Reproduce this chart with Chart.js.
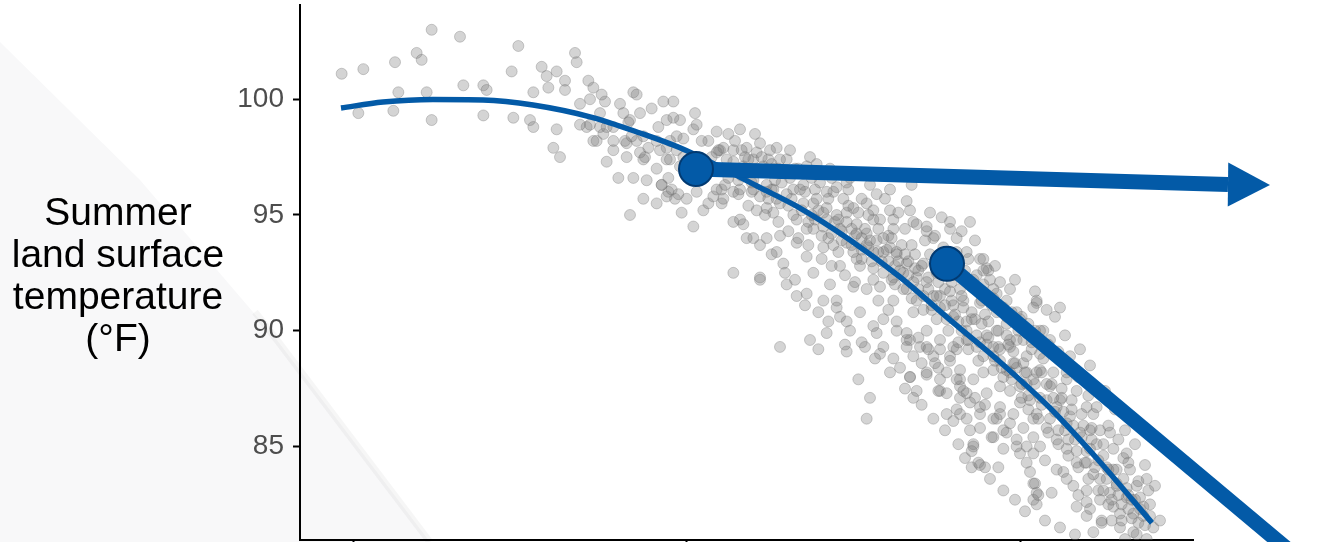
<!DOCTYPE html>
<html lang="en">
<head>
    <meta charset="UTF-8">
    <title>Summer land surface temperature</title>
    <script src="https://cdn.jsdelivr.net/npm/chart.js"></script>
    <style>
        html, body { margin: 0; padding: 0; background: #fff; overflow: hidden; }
        .container { position: relative; width: 1332px; height: 560px; }
    </style>
</head>
<body>
    <div class="container">
        <canvas id="lstChart"></canvas>
    </div>

    <script>
        // sampled sites: [x, summer LST in °F]
        const sites = [
            [0.193,101.1],[0.206,101.3],[0.225,101.6],[0.238,102.0],[0.241,101.7],[0.247,103.0],[0.264,102.7],[0.299,102.3],
            [0.333,102.0],[0.334,101.6],[0.295,101.2],[0.313,101.4],[0.316,101.0],[0.322,101.2],[0.327,100.8],[0.341,100.8],
            [0.344,100.5],[0.227,100.3],[0.244,100.3],[0.266,100.6],[0.278,100.6],[0.280,100.4],[0.203,99.4],[0.224,99.5],
            [0.247,99.1],[0.278,99.3],[0.296,99.2],[0.306,99.1],[0.308,98.8],[0.308,100.3],[0.317,100.5],[0.327,100.4],
            [0.322,98.7],[0.320,97.9],[0.324,97.5],[0.352,97.3],[0.359,96.6],[0.368,96.6],[0.376,96.5],[0.366,95.0],
            [0.397,95.1],[0.374,95.7],[0.382,95.5],[0.389,96.0],[0.393,95.7],[0.385,96.3],[0.382,97.0],[0.374,97.4],
            [0.372,97.7],[0.356,97.8],[0.344,98.2],[0.350,98.5],[0.340,98.8],[0.336,99.8],[0.342,100.0],[0.351,99.9],
            [0.360,99.8],[0.368,100.3],[0.370,100.2],[0.379,99.6],[0.386,99.9],[0.392,99.9],[0.405,99.4],[0.396,99.1],
            [0.388,99.1],[0.383,98.8],[0.372,99.4],[0.366,99.1],[0.356,98.8],[0.348,99.4],[0.394,98.4],[0.388,97.9],
            [0.398,97.5],[0.404,98.7],[0.388,97.4],[0.364,98.1],[0.370,98.2],
            [0.349,100.2],[0.362,99.4],[0.365,99.0],[0.336,98.9],[0.342,98.9],[0.348,98.8],[0.352,98.8],[0.356,98.2],
            [0.346,98.2],[0.375,97.5],[0.364,97.5],[0.385,96.3],[0.388,95.8],[0.395,95.9],[0.404,94.5],[0.410,95.2],
            [0.413,95.5],[0.421,95.5],[0.428,94.7],[0.436,94.0],[0.440,94.0],[0.448,94.0],[0.428,92.5],[0.444,92.3],
            [0.434,94.6],[0.442,95.2],[0.452,95.1],[0.454,97.9],[0.444,98.1],[0.436,97.9],[0.425,98.5],[0.418,98.6],
            [0.406,98.9],[0.392,99.2],[0.384,97.8],[0.390,97.4],[0.396,97.1],[0.394,97.8],[0.398,98.3],[0.413,98.2],
            [0.420,97.8],[0.428,97.8],[0.432,96.8],[0.440,96.5],[0.444,95.8],[0.448,95.3],[0.452,96.1],[0.452,97.0],
            [0.440,97.4],[0.428,96.0],[0.421,96.1],[0.416,95.8],[0.406,96.0],[0.400,95.7],[0.391,96.1],[0.389,96.6],
            [0.363,98.2],[0.367,98.4],[0.374,98.4],[0.377,97.9],[0.382,98.2],[0.390,98.2],
            [0.460,97.4],[0.478,97.2],[0.510,96.3],[0.514,95.9],[0.532,95.6],[0.535,96.3],[0.553,94.9],[0.570,94.7],
            [0.565,94.3],[0.576,93.1],[0.580,92.7],[0.582,92.2],[0.544,94.3],[0.548,94.0],[0.536,94.7],[0.522,95.2],
            [0.500,95.3],[0.488,96.0],[0.468,96.1],[0.466,94.8],[0.456,94.1],[0.454,93.4],[0.458,92.9],[0.472,93.2],
            [0.476,92.5],[0.486,92.0],[0.492,92.8],[0.502,93.1],[0.512,93.4],[0.522,93.6],[0.532,92.9],[0.538,92.3],
            [0.524,92.3],[0.512,92.2],[0.500,91.9],[0.432,94.8],[0.422,95.7],[0.418,96.1],[0.432,96.1],[0.448,96.0],
            [0.456,95.5],[0.476,95.5],[0.484,94.8],[0.492,94.4],[0.476,94.4],[0.466,93.8],[0.482,93.6],[0.496,93.8],
            [0.508,94.2],[0.516,94.8],[0.496,95.1],[0.508,95.5],[0.524,94.4],[0.504,92.8],[0.490,91.3],[0.472,91.6],
            [0.610,91.2],[0.624,91.0],[0.616,90.9],[0.608,91.0],[0.614,90.0],[0.618,89.6],[0.588,92.1],[0.594,91.8],
            [0.600,90.5],[0.604,89.9],[0.568,93.4],[0.578,93.1],[0.544,94.5],[0.524,94.8],[0.496,96.4],[0.490,96.2],
            [0.456,89.3],[0.474,89.6],[0.479,89.2],[0.484,89.9],[0.495,89.4],[0.496,89.1],[0.507,89.3],[0.513,88.8],
            [0.503,87.9],[0.510,87.1],[0.508,86.2],[0.518,89.3],[0.524,88.8],[0.534,88.0],[0.536,87.1],[0.538,87.4],
            [0.544,88.1],[0.551,88.4],[0.552,87.4],[0.556,87.3],[0.556,86.4],[0.560,86.1],[0.564,87.1],[0.570,85.7],
            [0.572,85.1],[0.571,84.8],[0.571,84.1],[0.575,84.3],[0.579,84.1],[0.587,84.1],[0.584,85.4],[0.590,84.9],
            [0.594,86.0],[0.600,84.7],[0.604,84.3],[0.608,83.4],[0.610,83.0],[0.610,82.5],[0.466,91.5],[0.460,92.0],
            [0.444,92.2],[0.482,91.3],[0.490,91.0],[0.492,90.6],[0.496,90.4],[0.504,90.8],[0.512,90.2],[0.514,89.9],
            [0.518,90.5],[0.526,90.0],[0.532,89.6],[0.540,89.3],[0.548,88.9],[0.558,88.9],[0.564,88.3],[0.572,87.9],
            [0.580,87.3],[0.588,86.7],[0.596,86.4],[0.602,85.8],[0.608,85.4],[0.576,86.4],[0.584,86.2],[0.592,85.6],
            [0.598,85.0],[0.608,84.7],[0.606,83.9],[0.608,82.7],[0.528,88.4],[0.541,88.6],[0.552,87.9],[0.564,87.6],
            [0.570,86.9],[0.562,86.6],[0.576,85.8],[0.568,86.2],[0.544,90.0],[0.552,89.6],[0.560,89.3],[0.536,90.8],
            [0.524,91.3],[0.516,91.9],[0.532,91.8],[0.542,91.5],[0.552,91.0],[0.560,90.6],[0.568,90.0],[0.576,89.5],
            [0.584,88.9],[0.592,88.3],[0.600,87.6],[0.606,87.0],[0.610,86.4],[0.608,87.9],
            [0.534,88.0],[0.544,88.2],[0.551,87.4],[0.564,86.4],[0.576,84.2],[0.572,85.0],[0.583,85.4],[0.588,86.4],
            [0.576,86.7],[0.568,87.3],[0.564,87.9],[0.558,88.7],[0.536,88.9],[0.532,89.3],[0.578,88.2],[0.588,87.6],
            [0.600,86.9],[0.608,86.2],[0.612,85.0],[0.609,83.4],[0.611,82.9],[0.619,83.0],[0.626,83.9],[0.632,83.3],
            [0.634,82.4],[0.640,82.0],[0.644,81.3],[0.649,81.8],[0.656,82.4],[0.660,81.5],[0.668,81.3],[0.670,83.3],
            [0.676,83.6],[0.672,82.8],[0.664,82.8],[0.658,83.4],[0.652,84.1],[0.646,85.1],[0.642,85.7],[0.636,85.6],
            [0.630,86.3],[0.624,87.0],[0.618,87.6],[0.612,88.3],[0.604,88.9],[0.594,89.3],[0.584,89.3],[0.628,88.2],
            [0.634,87.4],[0.640,86.7],[0.644,86.4],[0.648,85.7],[0.654,85.6],[0.656,84.9],[0.662,84.5],[0.664,84.7],
            [0.665,84.3],[0.640,84.3],[0.634,84.3],[0.628,84.9],[0.622,85.3],[0.616,85.8],[0.648,83.6],[0.640,83.1],
            [0.648,82.7],[0.640,82.6],[0.654,83.0],[0.668,82.1],[0.660,82.1],[0.680,81.5],[0.670,81.2],[0.676,81.0],
            [0.598,88.4],[0.588,88.7],[0.612,87.1],[0.604,87.7],[0.594,88.2],[0.622,86.7],[0.628,86.0],[0.534,89.6],
            [0.544,89.3],[0.552,89.2],[0.562,89.2],[0.568,89.6],
            [0.558,94.4],[0.562,94.0],[0.581,92.6],[0.610,91.3],[0.598,90.8],[0.605,90.3],[0.612,90.0],[0.630,88.9],
            [0.628,87.9],[0.578,92.6],[0.584,91.8],[0.592,91.3],[0.586,91.6],[0.572,92.2],[0.564,91.8],[0.576,91.2],
            [0.592,90.3],[0.602,89.6],[0.612,89.0],
            [0.415,97.5],[0.422,97.9],[0.427,97.0],[0.435,97.5],[0.439,96.4],[0.446,97.1],[0.451,96.1],[0.458,96.9],
            [0.463,95.7],[0.470,96.3],[0.475,96.6],[0.479,95.2],[0.484,96.0],[0.489,94.7],[0.494,95.7],[0.499,94.4],
            [0.503,95.1],[0.508,93.7],[0.512,94.8],[0.517,93.0],[0.521,94.1],[0.526,93.4],[0.530,92.5],[0.535,93.7],
            [0.539,91.8],[0.542,92.9],[0.547,91.1],[0.551,92.1],[0.554,93.6],[0.559,91.3],[0.563,90.4],[0.567,92.6],
            [0.571,90.8],[0.575,91.8],[0.580,89.8],[0.583,91.1],[0.587,89.3],[0.592,90.6],[0.596,88.6],[0.599,90.0],
            [0.604,88.2],[0.607,89.5],[0.614,88.8],[0.620,88.2],[0.625,87.5],[0.631,87.0],[0.637,86.4],[0.643,85.8],
            [0.650,85.1],[0.658,84.0],[0.662,83.6],[0.667,82.7],[0.674,82.0],
            [0.423,96.3],[0.431,95.9],[0.437,95.4],[0.447,95.0],[0.455,94.7],[0.461,94.3],[0.467,94.0],[0.473,93.7],
            [0.481,93.1],[0.487,92.8],[0.495,92.4],[0.501,92.1],[0.508,91.8],[0.515,91.3],[0.521,90.9],[0.526,90.4],
            [0.532,89.9],[0.539,89.7],[0.545,89.2],[0.549,88.6],[0.556,88.2],[0.562,87.9],[0.566,87.4],[0.573,87.1],
            [0.579,86.8],[0.586,86.2],[0.590,85.7],[0.598,85.3],[0.604,85.0],[0.615,84.4],[0.622,84.0],[0.628,83.6],
            [0.635,82.9],[0.642,82.3],[0.649,81.7],[0.655,81.8],[0.663,81.0],
            [0.411,96.7],[0.417,97.0],[0.425,96.6],[0.433,97.8],[0.442,97.7],[0.449,97.4],[0.456,97.4],[0.465,97.0],
            [0.472,97.1],[0.480,96.4],[0.487,96.6],[0.497,96.1],[0.505,95.7],[0.512,95.2],[0.519,95.7],[0.527,95.1],
            [0.531,94.4],[0.538,94.6],[0.543,93.9],[0.549,94.1],[0.557,93.1],[0.562,93.4],[0.569,93.1],[0.574,92.4],
            [0.578,92.0],[0.584,91.4],[0.590,91.0],[0.595,90.8],[0.601,90.6],[0.609,90.0],[0.617,89.4],[0.623,89.1],
            [0.629,88.5],[0.635,88.0],[0.641,87.2],[0.646,86.7],[0.653,85.9],[0.659,85.3],[0.666,84.0],[0.671,83.5],
            [0.678,82.5],[0.684,81.8],
            [0.501,94.1],[0.505,93.5],[0.510,93.9],[0.518,93.4],[0.525,92.8],[0.531,93.3],[0.537,92.7],[0.545,92.3],
            [0.550,91.5],[0.555,91.8],[0.561,92.4],[0.566,91.3],[0.573,90.5],[0.579,90.7],[0.586,90.0],[0.594,89.6],
            [0.485,94.0],[0.491,93.4],[0.477,94.8],[0.472,94.4],
            [0.409,98.2],[0.413,97.1],[0.418,97.7],[0.424,97.4],[0.429,98.2],[0.431,96.5],[0.434,97.1],[0.439,96.0],
            [0.442,97.0],[0.445,97.5],[0.449,95.7],[0.453,96.5],[0.455,97.0],[0.460,95.9],[0.462,96.6],[0.464,95.0],
            [0.467,97.0],[0.470,95.5],[0.473,94.7],[0.477,96.1],[0.481,94.1],[0.482,95.1],[0.485,95.7],[0.488,93.7],
            [0.491,94.8],[0.493,94.3],[0.497,95.4],[0.500,93.4],[0.502,94.6],[0.505,94.0],[0.509,95.0],[0.511,93.0],
            [0.514,93.9],[0.515,94.4],[0.518,92.5],[0.520,93.5],[0.523,94.0],[0.525,92.0],[0.527,93.0],[0.529,93.7],
            [0.533,92.4],[0.535,91.4],[0.537,93.3],[0.539,92.6],[0.542,90.9],[0.544,92.1],[0.546,93.3],[0.548,91.5],
            [0.550,90.5],[0.553,92.7],[0.555,91.1],[0.557,90.0],[0.559,92.1],[0.561,90.7],[0.563,89.5],[0.565,91.5],
            [0.568,90.4],[0.569,89.2],[0.571,91.9],[0.574,89.8],[0.575,88.7],[0.577,91.3],[0.580,89.4],[0.581,90.4],
            [0.584,88.3],[0.586,90.8],[0.588,89.2],[0.590,88.0],[0.592,89.8],[0.594,87.4],[0.596,89.1],[0.598,89.6],
            [0.601,87.1],[0.602,88.6],[0.605,86.6],[0.607,89.2],[0.609,87.7],[0.611,86.2],[0.613,88.2],[0.616,87.0],
            [0.617,85.6],[0.619,87.7],[0.621,86.5],[0.623,85.1],[0.625,87.1],[0.627,85.7],[0.629,84.6],[0.631,86.6],
            [0.633,85.3],[0.635,84.1],[0.638,85.9],[0.640,84.8],[0.641,83.6],[0.643,85.3],[0.645,84.1],[0.647,83.1],
            [0.650,84.6],[0.652,83.6],[0.653,82.5],[0.656,84.0],[0.659,82.9],[0.661,81.8],[0.664,83.2],[0.665,82.3],
            [0.669,82.7],[0.671,81.7],[0.674,82.4],[0.677,83.1],
            [0.444,93.7],[0.451,93.3],[0.459,92.5],[0.465,92.2],[0.471,91.1],[0.479,90.8],[0.485,90.4],[0.498,90.0],
            [0.505,89.5],[0.516,89.0],[0.522,88.2],[0.531,87.5],[0.541,86.8],[0.548,86.2],[0.555,85.7],[0.563,85.1],
            [0.567,84.5],[0.582,83.6],[0.590,83.1],[0.597,82.7],[0.603,82.2],[0.615,81.8],[0.624,81.5],[0.633,81.2],
            [0.432,98.7],[0.441,98.5],[0.450,97.8],[0.462,97.8],[0.474,97.5],[0.486,97.0],[0.498,96.6],[0.510,96.7],
            [0.522,96.1],[0.534,95.2],[0.546,95.1],[0.558,94.7],[0.573,93.9],[0.585,92.8],[0.597,92.2],[0.609,91.7],
            [0.621,90.6],[0.627,89.8],[0.636,89.2],[0.642,88.5],[0.651,87.4],[0.657,86.6],[0.663,85.7],[0.669,85.1],
            [0.675,84.2],[0.681,83.3],
            [0.419,97.8],[0.421,96.9],[0.428,97.3],[0.433,96.7],[0.437,97.4],[0.440,96.1],[0.445,96.9],[0.448,96.3],
            [0.451,97.2],[0.454,95.7],[0.457,96.4],[0.461,95.4],[0.464,96.1],[0.469,95.2],[0.471,96.0],[0.475,95.0],
            [0.478,95.7],[0.482,94.5],[0.484,95.3],[0.487,94.2],[0.490,95.0],[0.493,93.9],[0.496,94.7],[0.499,93.7],
            [0.502,94.2],[0.505,93.1],[0.507,94.4],[0.509,93.6],[0.512,92.7],[0.515,93.4],[0.518,94.0],[0.521,93.0],
            [0.523,92.2],[0.526,93.3],[0.528,92.6],[0.530,91.8],[0.533,93.0],[0.536,92.1],[0.538,91.3],[0.541,92.8],
            [0.545,91.8],[0.547,90.9],[0.550,92.5],[0.552,91.5],[0.556,90.5],[0.558,91.7],[0.560,91.1],[0.565,90.0],
            [0.566,91.0],[0.569,89.6],[0.571,90.5],[0.574,89.3],[0.577,90.3],[0.578,88.9],[0.581,89.7],[0.585,88.7],
            [0.587,90.0],[0.589,88.4],[0.593,89.4],[0.595,87.9],[0.597,88.6],[0.601,87.7],[0.603,88.2],[0.605,87.2],
            [0.610,88.2],[0.613,86.8],[0.616,87.7],[0.618,86.2],[0.620,87.1],[0.623,85.7],[0.626,86.5],[0.629,85.3],
            [0.632,85.9],[0.634,84.8],[0.637,85.4],[0.639,84.3],[0.642,84.9],[0.644,83.8],[0.647,84.4],[0.650,83.1],
            [0.653,84.0],[0.655,82.7],[0.658,83.3],[0.661,82.5],[0.665,82.9],[0.667,81.9],[0.672,82.3],[0.675,81.6],
            [0.678,82.0]
        ];

        // fitted curve
        const fitX = [0.1926, 0.2178, 0.2478, 0.2778, 0.3078, 0.342, 0.372, 0.396, 0.42, 0.4422, 0.468, 0.498, 0.528, 0.558, 0.588, 0.618, 0.648, 0.6792];
        const fitY = [99.62, 99.88, 99.99, 99.97, 99.75, 99.24, 98.54, 97.90, 97.08, 96.25, 95.30, 93.92, 92.32, 90.47, 88.65, 86.66, 84.33, 81.70];

        // highlighted sites and their arrows
        const markerX = [0.4056, 0.5562];
        const markerY = [96.99, 92.89];
        const arrowFlatEnd = { x: 0.7248, y: 96.32 };
        const arrowFlatTip = { x: 0.75, y: 96.30 };
        const arrowSteepEnd = { x: 0.774, y: 79.75 };

        const yTicks = [85, 90, 95, 100];
        const xTicks = [0.2, 0.4, 0.6];
        const yTitle = ["Summer", "land surface", "temperature", "(°F)"];

        const blue = "#035aa7";

        const backdrop = {
            id: "backdrop",
            beforeDraw(chart) {
                const ctx = chart.ctx;
                ctx.save();
                ctx.fillStyle = "rgba(20, 20, 60, 0.03)";
                ctx.beginPath();
                ctx.moveTo(0, 42);
                ctx.lineTo(140, 180);
                ctx.lineTo(277, 340);
                ctx.lineTo(430, 542);
                ctx.lineTo(0, 542);
                ctx.closePath();
                ctx.fill();
                ctx.strokeStyle = "rgba(0, 0, 0, 0.035)";
                ctx.lineWidth = 7;
                ctx.beginPath();
                ctx.moveTo(255, 312);
                ctx.lineTo(277, 340);
                ctx.lineTo(430, 542);
                ctx.stroke();
                ctx.restore();
            }
        };

        // arrow head for the flat arrow, placed through the chart scales
        const arrowHead = {
            id: "arrowHead",
            afterDatasetsDraw(chart) {
                const { ctx, scales } = chart;
                const bx = scales.x.getPixelForValue(arrowFlatEnd.x);
                const by = scales.y.getPixelForValue(arrowFlatEnd.y);
                const tx = scales.x.getPixelForValue(arrowFlatTip.x);
                const ty = scales.y.getPixelForValue(arrowFlatTip.y);
                const len = Math.hypot(tx - bx, ty - by);
                const nx = -(ty - by) / len * 22;
                const ny = (tx - bx) / len * 22;
                ctx.save();
                ctx.fillStyle = blue;
                ctx.beginPath();
                ctx.moveTo(tx, ty);
                ctx.lineTo(bx + nx, by + ny);
                ctx.lineTo(bx - nx, by - ny);
                ctx.closePath();
                ctx.fill();
                ctx.restore();
            }
        };

        const sideTitle = {
            id: "sideTitle",
            afterDraw(chart) {
                const ctx = chart.ctx;
                ctx.save();
                ctx.font = '39px "Liberation Sans", Arial, sans-serif';
                ctx.fillStyle = "#000";
                ctx.textAlign = "center";
                ctx.textBaseline = "alphabetic";
                yTitle.forEach((line, i) => ctx.fillText(line, 118, 225 + i * 42));
                ctx.restore();
            }
        };

        new Chart(document.getElementById("lstChart"), {
            type: "scatter",
            data: {
                datasets: [
                    {
                        label: "Markers",
                        data: markerX.map((x, i) => ({ x: x, y: markerY[i] })),
                        pointRadius: 17,
                        pointBackgroundColor: blue,
                        pointBorderColor: "#023a72",
                        pointBorderWidth: 2,
                        order: 1
                    },
                    {
                        label: "Arrow flat",
                        data: [{ x: markerX[0], y: markerY[0] }, arrowFlatEnd],
                        showLine: true,
                        borderColor: blue,
                        borderWidth: 15,
                        borderCapStyle: "butt",
                        pointRadius: 0,
                        clip: false,
                        order: 2
                    },
                    {
                        label: "Arrow steep",
                        data: [{ x: markerX[1], y: markerY[1] }, arrowSteepEnd],
                        showLine: true,
                        borderColor: blue,
                        borderWidth: 15,
                        borderCapStyle: "butt",
                        pointRadius: 0,
                        clip: false,
                        order: 2
                    },
                    {
                        label: "Fit",
                        data: fitX.map((x, i) => ({ x: x, y: fitY[i] })),
                        showLine: true,
                        borderColor: blue,
                        borderWidth: 5.5,
                        cubicInterpolationMode: "monotone",
                        pointRadius: 0,
                        order: 3
                    },
                    {
                        label: "Sites",
                        data: sites.map(p => ({ x: p[0], y: p[1] })),
                        pointRadius: 5.5,
                        pointBackgroundColor: "rgba(125, 125, 125, 0.33)",
                        pointBorderColor: "rgba(100, 100, 100, 0.3)",
                        pointBorderWidth: 1,
                        order: 4
                    }
                ]
            },
            options: {
                responsive: true,
                maintainAspectRatio: false,
                animation: false,
                events: [],
                layout: { autoPadding: false, padding: { top: 5, right: 139, left: 0, bottom: 0 } },
                plugins: { legend: { display: false }, tooltip: { enabled: false } },
                scales: {
                    x: {
                        type: "linear",
                        min: 0.168,
                        max: 0.7038,
                        afterBuildTicks: s => { s.ticks = xTicks.map(v => ({ value: v })); },
                        afterFit: s => { s.height = 20; s.paddingLeft = 0; s.paddingRight = 0; },
                        ticks: { display: false },
                        grid: { drawOnChartArea: false, drawTicks: true, tickLength: 7, tickWidth: 2, tickColor: "#000" },
                        border: { display: true, color: "#000", width: 2 }
                    },
                    y: {
                        type: "linear",
                        min: 80.96,
                        max: 104.07,
                        afterBuildTicks: s => { s.ticks = yTicks.map(v => ({ value: v })); },
                        afterFit: s => { s.width = 300; s.paddingTop = 0; s.paddingBottom = 0; },
                        ticks: {
                            color: "#4d4d4d",
                            padding: 9,
                            font: { family: '"Liberation Sans", Arial, sans-serif', size: 28 }
                        },
                        grid: { drawOnChartArea: false, drawTicks: true, tickLength: 7, tickWidth: 2, tickColor: "#000" },
                        border: { display: true, color: "#000", width: 2 }
                    }
                }
            },
            plugins: [backdrop, arrowHead, sideTitle]
        });
    </script>
</body>
</html>
